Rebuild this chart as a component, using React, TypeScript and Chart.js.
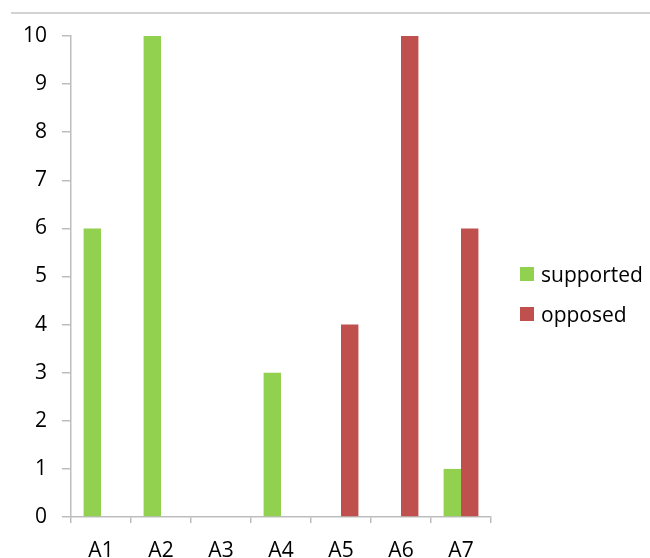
import React, { useEffect, useRef } from "react";
import { Chart, registerables } from "chart.js";

Chart.register(...registerables);

const categories = ["A1", "A2", "A3", "A4", "A5", "A6", "A7"];
const supported = [6, 10, 0, 3, 0, 0, 1];
const opposed = [0, 0, 0, 0, 4, 10, 6];
const seriesNames = ["supported", "opposed"];
const seriesColors = ["#92D050", "#C0504D"];
const yTicks = { min: 0, max: 10, step: 1 };

const FONT = "'Open Sans', sans-serif";
const AXIS_GREY = "#bdbdbd";
const TEXT = "#000";

export default function App() {
  const canvasRef = useRef<HTMLCanvasElement | null>(null);

  useEffect(() => {
    const canvas = canvasRef.current;
    if (!canvas) return;
    const chart = new Chart(canvas, {
      type: "bar",
      data: {
        labels: categories,
        datasets: [supported, opposed].map((values, i) => ({
          label: seriesNames[i],
          data: values,
          backgroundColor: seriesColors[i],
          borderWidth: 0,
          categoryPercentage: 0.58,
          barPercentage: 1,
        })),
      },
      options: {
        animation: false,
        responsive: true,
        maintainAspectRatio: false,
        layout: { padding: { top: 36, right: 159, bottom: 0, left: 0 } },
        plugins: {
          legend: { display: false },
          tooltip: { enabled: false },
        },
        scales: {
          x: {
            offset: true,
            grid: {
              display: true,
              offset: true,
              drawOnChartArea: false,
              drawTicks: true,
              tickLength: 6,
              color: AXIS_GREY,
              lineWidth: 1.5,
            },
            border: { display: true, color: AXIS_GREY, width: 1.5 },
            ticks: {
              color: TEXT,
              font: { family: FONT, size: 21 },
              padding: 15,
              maxRotation: 0,
            },
            afterFit: (scale: any) => {
              scale.height = 41;
            },
          },
          y: {
            min: yTicks.min,
            max: yTicks.max,
            grid: {
              display: true,
              drawOnChartArea: false,
              drawTicks: true,
              tickLength: 9,
              color: AXIS_GREY,
              lineWidth: 1.5,
            },
            border: { display: true, color: AXIS_GREY, width: 1.5 },
            ticks: {
              stepSize: yTicks.step,
              color: TEXT,
              font: { family: FONT, size: 21 },
              padding: 15,
            },
            afterFit: (scale: any) => {
              scale.width = 71;
            },
          },
        },
      },
    });
    return () => chart.destroy();
  }, []);

  return (
    <div
      style={{
        position: "absolute",
        left: 0,
        top: 0,
        width: 650,
        height: 558,
        background: "#fff",
        overflow: "hidden",
      }}
    >
      <div
        style={{
          position: "absolute",
          left: 11,
          right: 0,
          top: 12,
          height: 2,
          background: "#d2d2d2",
        }}
      />
      <canvas ref={canvasRef} style={{ position: "absolute", left: 0, top: 0, width: 650, height: 558 }} />
      <div
        style={{
          position: "absolute",
          left: 520,
          top: 262,
          fontFamily: FONT,
          fontSize: 21,
          color: TEXT,
        }}
      >
        {seriesNames.map((name, i) => (
          <div
            key={name}
            style={{ display: "flex", alignItems: "center", height: 24, marginBottom: i === 0 ? 16 : 0 }}
          >
            <span
              style={{
                display: "inline-block",
                width: 14,
                height: 14,
                background: seriesColors[i],
                marginRight: 7,
              }}
            />
            <span>{name}</span>
          </div>
        ))}
      </div>
    </div>
  );
}
